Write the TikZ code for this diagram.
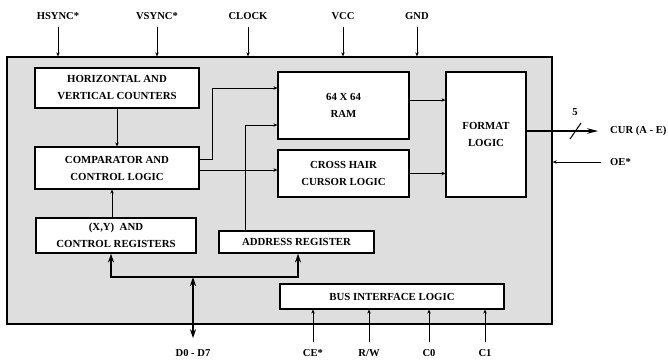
\documentclass[tikz,border=0pt]{standalone}
\usepackage{fontspec}
\setmainfont{Liberation Serif}
\usetikzlibrary{arrows.meta,positioning,calc}

\begin{document}
\begin{tikzpicture}[
      x=1pt, y=-1pt,
      bloco/.style={draw, line width=1.1pt, fill=white, align=center, inner sep=0pt, font=\bfseries\fontsize{10.8}{17}\selectfont},
      rotulo/.style={font=\bfseries\fontsize{10.6}{12}\selectfont, inner sep=1pt},
      seta/.style={-{Stealth[length=4pt,width=3.5pt]}, line width=1pt},
      setagrande/.style={-{Stealth[length=11pt,width=5.5pt]}, line width=1.3pt},
      barra/.style={{Stealth[length=9pt,width=6pt]}-{Stealth[length=9pt,width=6pt]}, line width=1.9pt}
  ]
    \useasboundingbox (0,0) rectangle (668,361);

    % chip
    \node [draw, line width=1.3pt, fill=black!13, minimum width=545pt, minimum height=267pt, inner sep=0pt] (chip) at (279.5,190.5) {};

    % blocos internos
    \node [bloco, minimum width=164pt, minimum height=40pt] (cont) at (117,88) {HORIZONTAL AND\\VERTICAL COUNTERS};
    \node [bloco, minimum width=164pt, minimum height=42pt] (comp) at (117,168) {COMPARATOR AND\\CONTROL LOGIC};
    \node [bloco, minimum width=160pt, minimum height=35pt] (regxy) at (116,235.5) {(X,Y)~~AND\\CONTROL REGISTERS};
    \node [bloco, minimum width=155pt, minimum height=22pt] (ender) at (296.5,242) {ADDRESS REGISTER};
    \node [bloco, minimum width=224pt, minimum height=25pt] (bif) at (392,296.5) {BUS INTERFACE LOGIC};
    \node [bloco, minimum width=131pt, minimum height=67pt] (ram) at (343.5,105.5) {64 X 64\\RAM};
    \node [bloco, minimum width=131pt, minimum height=47pt] (cruz) at (343.5,173.5) {CROSS HAIR\\CURSOR LOGIC};
    \node [bloco, minimum width=80pt, minimum height=125pt] (fmt) at (486,134.5) {FORMAT\\LOGIC};

    % pinos de cima
    \node [rotulo] (hs) at (58,16) {HSYNC*};
    \node [rotulo] (vs) at (157,16) {VSYNC*};
    \node [rotulo] (clk) at (248,16) {CLOCK};
    \node [rotulo] (vcc) at (343,16) {VCC};
    \node [rotulo] (gnd) at (417,16) {GND};
    \foreach \p in {hs,vs,clk,vcc,gnd}
      \draw [seta] ([yshift=-6pt]\p.south) -- (\p.south |- chip.north);

    % pinos de baixo
    \node [rotulo] (dd) at (193,353) {D0 - D7};
    \node [rotulo] (ce) at (313,353) {CE*};
    \node [rotulo] (rw) at (369,353) {R/W};
    \node [rotulo] (cz) at (429,353) {C0};
    \node [rotulo] (cu) at (485,353) {C1};
    \foreach \p in {ce,rw,cz,cu}
      \draw [seta] ([yshift=6pt]\p.north) -- (\p.north |- bif.south);

    % saidas
    \node [rotulo, anchor=west] (cur) at (609,131) {CUR (A - E)};
    \node [rotulo, anchor=west] (oe) at (609,162) {OE*};
    \draw [setagrande] (fmt.east |- cur.west) -- ([xshift=-11pt]cur.west);
    \draw [line width=1pt] (570,139) -- (581,123);
    \node [rotulo] (n5) at (575,112) {5};
    \draw [seta] ([xshift=-8pt]oe.west) -- (oe.west -| chip.east);

    % ligacoes internas
    \draw [seta] (cont.south) -- (comp.north);
    \draw [seta] ([xshift=-4pt]regxy.north) coordinate (x1) -- (x1 |- comp.south);
    \draw [seta] ([yshift=9pt]comp.east) -- ++(13pt,0) |- ([yshift=17.5pt]ram.west);
    \draw [seta] ([yshift=-2pt]comp.east) coordinate (c1) -- (c1 -| cruz.west);
    \draw [seta] ([xshift=-51.5pt]ender.north) |- ([yshift=-19.5pt]ram.west);
    \draw [seta] ([yshift=5.5pt]ram.east) coordinate (r1) -- (r1 -| fmt.west);
    \draw [seta] (cruz.east) -- (cruz.east -| fmt.west);

    % barramento de dados
    \coordinate (be) at (111,277);
    \coordinate (bd) at (298,277);
    \coordinate (jd) at (193,277);
    \draw [barra] (be |- regxy.south) -- (be) -- (bd) -- (bd |- ender.south);
    \draw [barra] (jd) -- ([yshift=10pt]dd.north);
\end{tikzpicture}
\end{document}
